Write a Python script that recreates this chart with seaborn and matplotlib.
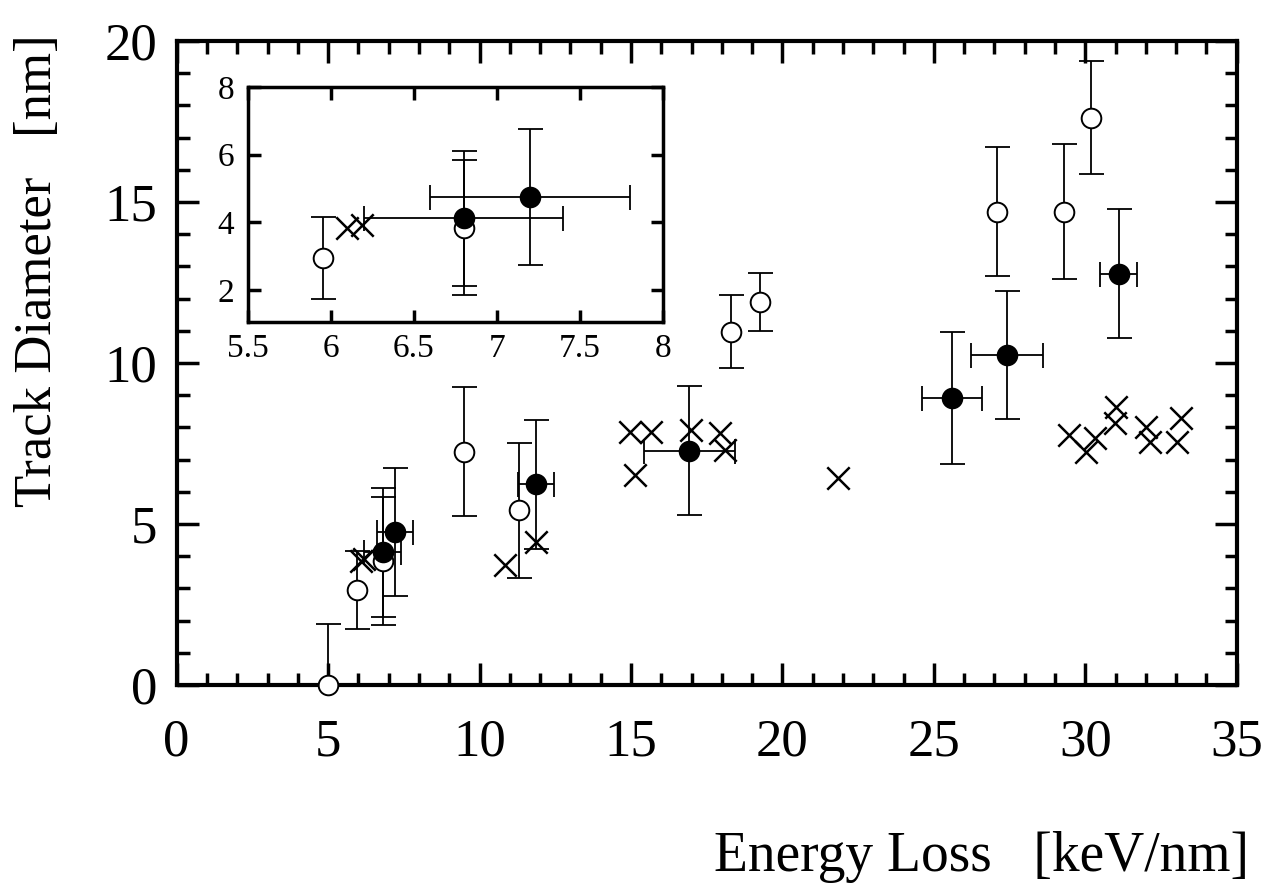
import numpy as np
import pandas as pd
import matplotlib
matplotlib.use("Agg")
import matplotlib.pyplot as plt
from matplotlib.ticker import MultipleLocator
import seaborn as sns

# open circles
x_open = [5.0, 5.95, 6.8, 9.5, 11.3, 18.3, 19.25, 27.1, 29.3, 30.2]
y_open = [0.0, 2.95, 3.85, 7.25, 5.43, 10.97, 11.9, 14.7, 14.7, 17.62]
yerr_open = [1.9, 1.2, 2.0, 2.0, 2.1, 1.13, 0.9, 2.0, 2.1, 1.75]

# filled circles
x_fill = [6.8, 7.2, 11.87, 16.92, 25.6, 27.42, 31.1]
y_fill = [4.12, 4.75, 6.23, 7.28, 8.92, 10.25, 12.78]
xerr_fill = [0.6, 0.6, 0.6, 1.5, 1.0, 1.2, 0.6]
yerr_fill = [2.0, 2.0, 2.0, 2.0, 2.05, 2.0, 2.0]

# crosses
x_cross = [6.1, 6.19, 10.84, 11.87, 14.97, 15.13, 15.66, 16.97, 17.94, 18.1,
           21.83, 29.47, 30.04, 30.31, 30.97, 31.03, 32.02, 32.13, 33.04, 33.17]
y_cross = [3.85, 3.92, 3.73, 4.45, 7.87, 6.52, 7.87, 7.92, 7.82, 7.3,
           6.43, 7.76, 7.25, 7.66, 8.13, 8.64, 8.02, 7.56, 7.56, 8.28]

inset_xticks = [5.5, 6, 6.5, 7, 7.5, 8]
inset_xlabels = ["5.5", "6", "6.5", "7", "7.5", "8"]
inset_yticks = [2, 4, 6, 8]

df_open = pd.DataFrame({"x": x_open, "y": y_open, "ye": yerr_open})
df_fill = pd.DataFrame({"x": x_fill, "y": y_fill, "xe": xerr_fill, "ye": yerr_fill})
df_cross = pd.DataFrame({"x": x_cross, "y": y_cross})

sns.set_style("ticks", {"axes.edgecolor": "black", "text.color": "black",
                        "xtick.color": "black", "ytick.color": "black"})
plt.rcParams["font.family"] = ["Liberation Serif", "DejaVu Serif"]

fig = plt.figure(figsize=(12.71, 8.88), dpi=100)
ax = fig.add_axes([0.139, 0.2286, 0.834, 0.7252])
ins = fig.add_axes([0.195, 0.637, 0.3266, 0.265])


def draw(a, ms, clip):
    a.errorbar(df_open.x, df_open.y, yerr=df_open.ye, fmt="none", ecolor="black",
               elinewidth=1.3, capsize=9, capthick=1.3, zorder=2)
    a.errorbar(df_fill.x, df_fill.y, xerr=df_fill.xe, yerr=df_fill.ye, fmt="none",
               ecolor="black", elinewidth=1.3, capsize=9, capthick=1.3, zorder=2)
    n0 = len(a.collections)
    sns.scatterplot(data=df_open, x="x", y="y", ax=a, marker="o", s=ms,
                    facecolor="white", edgecolor="black", linewidth=1.4, zorder=3)
    sns.scatterplot(data=df_fill, x="x", y="y", ax=a, marker="o", s=ms,
                    color="black", edgecolor="black", linewidth=1.4, zorder=4)
    sns.scatterplot(data=df_cross, x="x", y="y", ax=a, marker="x", s=ms * 1.3,
                    color="black", linewidth=1.8, zorder=4)
    for c in a.collections[n0:]:
        c.set_clip_on(clip)


draw(ax, 200, False)
ax.set_xlim(0, 35)
ax.set_ylim(0, 20)
ax.xaxis.set_major_locator(MultipleLocator(5))
ax.xaxis.set_minor_locator(MultipleLocator(1))
ax.yaxis.set_major_locator(MultipleLocator(5))
ax.yaxis.set_minor_locator(MultipleLocator(1))
ax.tick_params(which="both", direction="in", top=True, right=True, width=2.5)
ax.tick_params(which="major", length=16, labelsize=38)
ax.tick_params(which="minor", length=9)
ax.tick_params(axis="x", which="major", pad=24)
ax.tick_params(axis="y", which="major", pad=14)
for sp in ax.spines.values():
    sp.set_linewidth(3)
ax.set_xlabel("")
ax.set_ylabel("")

draw(ins, 200, True)
ins.set_xlim(5.5, 8)
ins.set_ylim(1.05, 7.95)
ins.set_xticks(inset_xticks)
ins.set_xticklabels(inset_xlabels)
ins.set_yticks(inset_yticks)
ins.tick_params(direction="in", top=True, right=True, width=2.5, length=9,
                labelsize=24)
ins.tick_params(axis="x", pad=8)
ins.tick_params(axis="y", pad=10)
for sp in ins.spines.values():
    sp.set_linewidth(2.5)
ins.set_xlabel("")
ins.set_ylabel("")

fig.text(0.983, 0.035, "Energy Loss   [keV/nm]", ha="right", va="center", fontsize=40)
fig.text(0.03, 0.695, "Track Diameter   [nm]", ha="center", va="center",
         rotation=90, fontsize=38)

fig.savefig("out.png", dpi=100)
